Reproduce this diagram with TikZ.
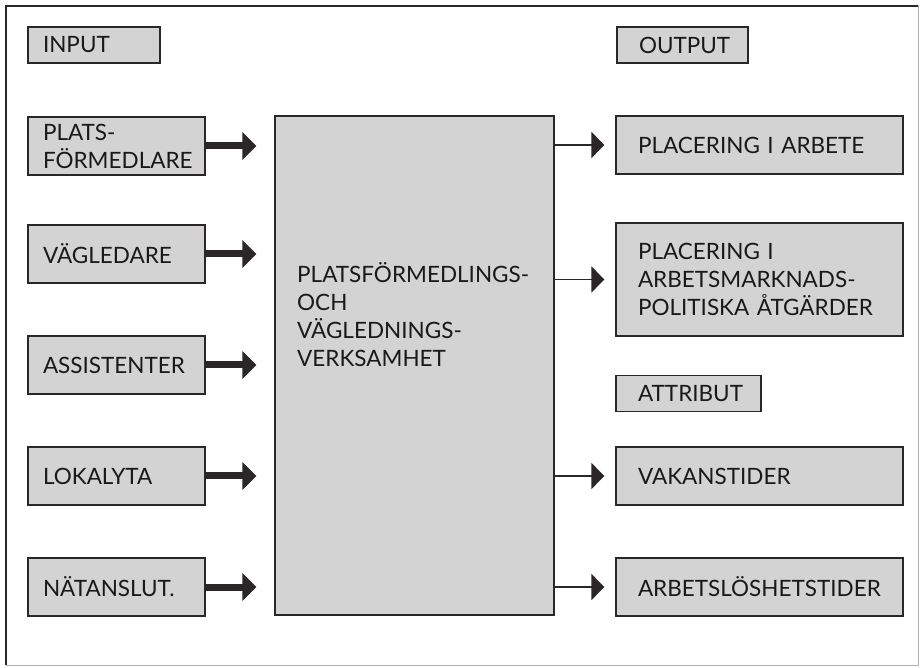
\documentclass[tikz,border=0pt]{standalone}
\usepackage{fontspec}
\setmainfont{Lato}
\usetikzlibrary{arrows.meta}
\definecolor{boxgray}{HTML}{D3D3D3}
\definecolor{inkdark}{HTML}{2B2628}
\newcommand\diafont{\fontsize{22.5}{28}\selectfont}
\tikzset{
  inbox/.style={draw=inkdark, line width=1.2pt, fill=boxgray, font=\diafont, text=black!90,
    align=left, inner xsep=15pt, inner ysep=0pt, minimum height=58pt, text width=147pt},
  outbox/.style={inbox, inner xsep=22pt, text width=243pt},
  headbox/.style={inbox, minimum height=36pt},
  thickarrow/.style={draw=inkdark, line width=7pt, -{Triangle[length=14pt,width=27pt]}},
  thinarrow/.style={draw=inkdark, line width=1.5pt, -{Triangle[length=13pt,width=26pt]}}
}
\begin{document}
\begin{tikzpicture}[x=1pt,y=-1pt]
\useasboundingbox (0,0) rectangle (922,668);
\draw[gray!60, line width=1pt] (6,6) rectangle (918,665);
\draw[inkdark, line width=2pt] (6,665) -- (6,6) -- (918,6);
% input side
\node[headbox, text width=102pt] (input) at (94,45) {INPUT};
\node[inbox] (plats) at (116.5,146) {PLATS-\\FÖRMEDLARE};
\node[inbox] (vagl) at (116.5,254) {VÄGLEDARE};
\node[inbox] (assist) at (116.5,365) {ASSISTENTER};
\node[inbox] (lokal) at (116.5,476) {LOKALYTA};
\node[inbox] (natan) at (116.5,587) {NÄTANSLUT.};
% verksamhet
\node[draw=inkdark, line width=1.2pt, fill=boxgray, minimum width=279pt, minimum height=499pt] (verk) at (414.5,365.5) {};
\node[font=\diafont, text=black!90, align=left, anchor=west, inner sep=0pt] (verktext) at (297,315)
  {PLATSFÖRMEDLINGS-\\OCH\\VÄGLEDNINGS-\\VERKSAMHET};
% output side
\node[headbox, inner xsep=22pt, text width=87pt] (output) at (682.5,45) {OUTPUT};
\node[outbox] (arbete) at (759.5,145) {PLACERING I ARBETE};
\node[outbox, minimum height=113pt] (atgard) at (759.5,279.5) {PLACERING I\\ARBETSMARKNADS-\\POLITISKA ÅTGÄRDER};
\node[headbox, inner xsep=22pt, text width=101pt] (attribut) at (688.5,393.5) {ATTRIBUT};
\node[outbox] (vakans) at (759.5,476) {VAKANSTIDER};
\node[outbox] (arbl) at (759.5,587) {ARBETSLÖSHETSTIDER};
% arrows
\foreach \n in {plats,vagl,assist,lokal,natan}
  \draw[thickarrow, shorten >=18pt] (\n.east) -- (\n.east -| verk.west);
\foreach \n in {arbete,atgard,vakans,arbl}
  \draw[thinarrow, shorten >=11pt] (verk.east |- \n.west) -- (\n.west);
\end{tikzpicture}
\end{document}
